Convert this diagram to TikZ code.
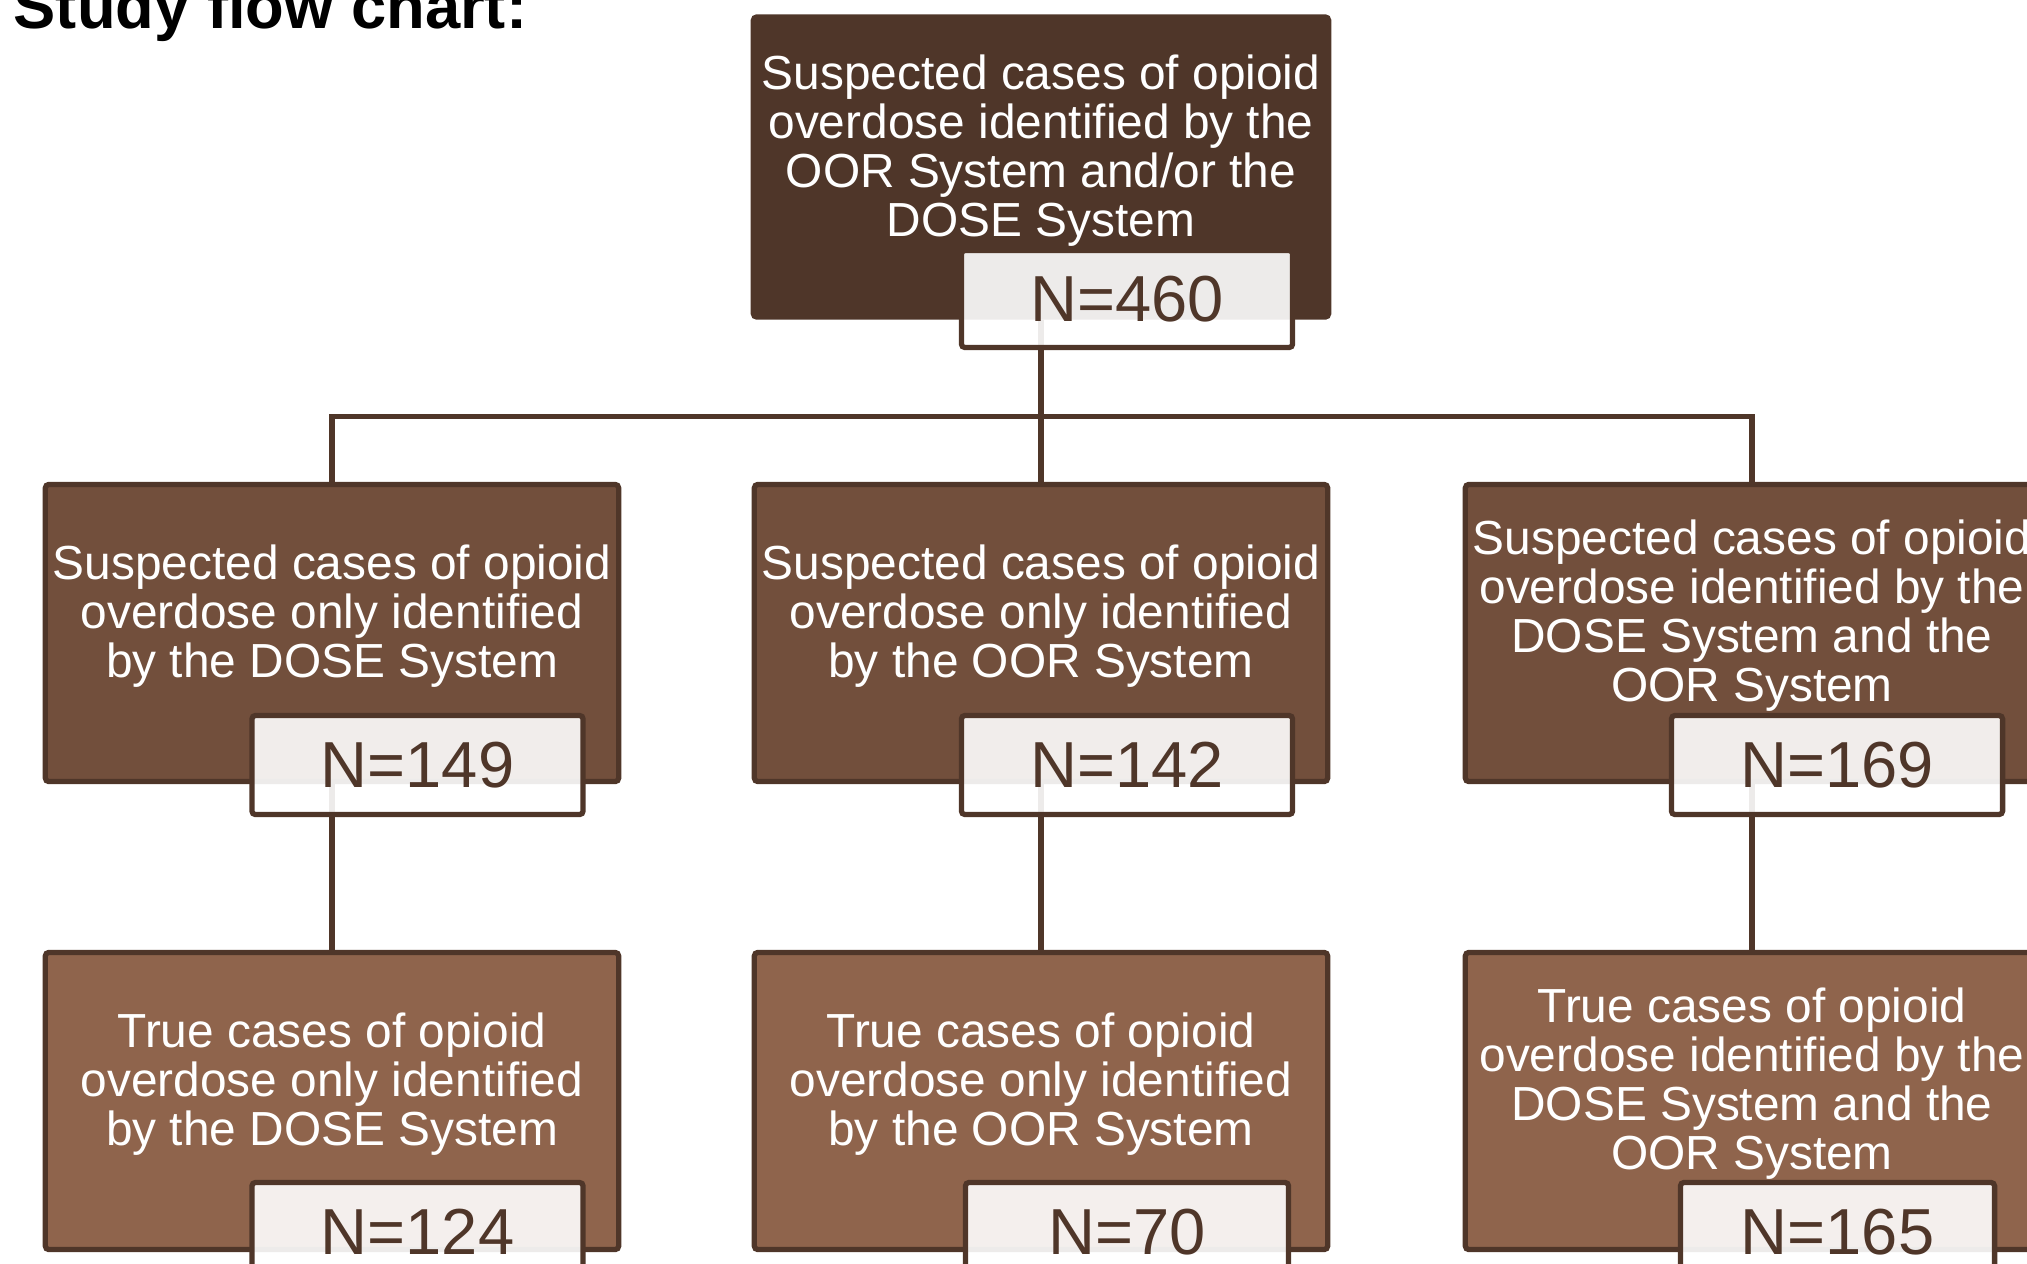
\documentclass[tikz,border=0pt]{standalone}
\usepackage{fontspec}
\setmainfont{Liberation Sans}
\usetikzlibrary{positioning}
\definecolor{bark}{HTML}{4F3629}
\definecolor{midbrown}{HTML}{724F3C}
\definecolor{lightbrown}{HTML}{8F644C}
\pgfdeclarelayer{bg}
\pgfsetlayers{bg,main}
\tikzset{
  stage/.style={draw=bark, line width=1.5pt, rounded corners=1pt, minimum width=5.73cm, minimum height=2.97cm, inner sep=0pt},
  casetext/.style={text=white, align=center, font=\fontsize{13.6}{13.95}\selectfont, inner sep=0pt},
  count/.style={draw=bark, line width=1.5pt, rounded corners=1pt, fill=white, fill opacity=0.9, text opacity=1, text=bark, minimum width=3.31cm, minimum height=0.99cm, inner sep=0pt, font=\fontsize{18.5}{18.5}\selectfont},
  link/.style={draw=bark, line width=1.5pt}
}

\begin{document}
\begin{tikzpicture}[x=0.01cm, y=-0.01cm]
  \useasboundingbox (0,0) rectangle (2027,1263);
  \clip (0,0) rectangle (2027,1263);

  \node[anchor=base west, inner sep=0pt, font={\fontsize{18}{18}\selectfont\bfseries}] (title) at (13,28) {Study flow chart:};

  % all suspected cases
  \node[stage, fill=bark, minimum width=5.75cm, minimum height=3.0cm] (all) at (1041,167) {};
  \node[casetext] (alltext) at ([yshift=-1.36cm]all.north) {Suspected cases of opioid\\overdose identified by the\\OOR System and/or the\\DOSE System};
  \node[count, minimum height=0.97cm] (alln) at (1127,299) {N=460};

  % suspected cases per system
  \node[stage, fill=midbrown] (mid1) at (332,633) {};
  \node[stage, fill=midbrown] (mid2) at (1041,633) {};
  \node[stage, fill=midbrown] (mid3) at (1752,633) {};
  \node[casetext] (mid1text) at ([yshift=-1.34cm]mid1.north) {Suspected cases of opioid\\overdose only identified\\by the DOSE System};
  \node[casetext] (mid2text) at ([yshift=-1.34cm]mid2.north) {Suspected cases of opioid\\overdose only identified\\by the OOR System};
  \node[casetext] (mid3text) at ([yshift=-1.34cm]mid3.north) {Suspected cases of opioid\\overdose identified by the\\DOSE System and the\\OOR System};
  \node[count] (mid1n) at (417.5,765) {N=149};
  \node[count] (mid2n) at (1127,765) {N=142};
  \node[count] (mid3n) at (1837,765) {N=169};

  % true cases per system
  \node[stage, fill=lightbrown] (low1) at (332,1101) {};
  \node[stage, fill=lightbrown] (low2) at (1041,1101) {};
  \node[stage, fill=lightbrown] (low3) at (1752,1101) {};
  \node[casetext] (low1text) at ([yshift=-1.34cm]low1.north) {True cases of opioid\\overdose only identified\\by the DOSE System};
  \node[casetext] (low2text) at ([yshift=-1.34cm]low2.north) {True cases of opioid\\overdose only identified\\by the OOR System};
  \node[casetext] (low3text) at ([yshift=-1.34cm]low3.north) {True cases of opioid\\overdose identified by the\\DOSE System and the\\OOR System};
  \node[count] (low1n) at (417.5,1232) {N=124};
  \node[count, minimum width=3.23cm] (low2n) at (1127,1232) {N=70};
  \node[count, minimum width=3.14cm] (low3n) at (1837.5,1232) {N=165};

  \begin{pgfonlayer}{bg}
    \draw[link] (all.south) -- (mid2.north);
    \draw[link] (mid1.north) -- ++(0,-65) -| (mid3.north);
    \foreach \i in {1,2,3}
      \draw[link] (mid\i.south) -- (low\i.north);
  \end{pgfonlayer}
\end{tikzpicture}
\end{document}
